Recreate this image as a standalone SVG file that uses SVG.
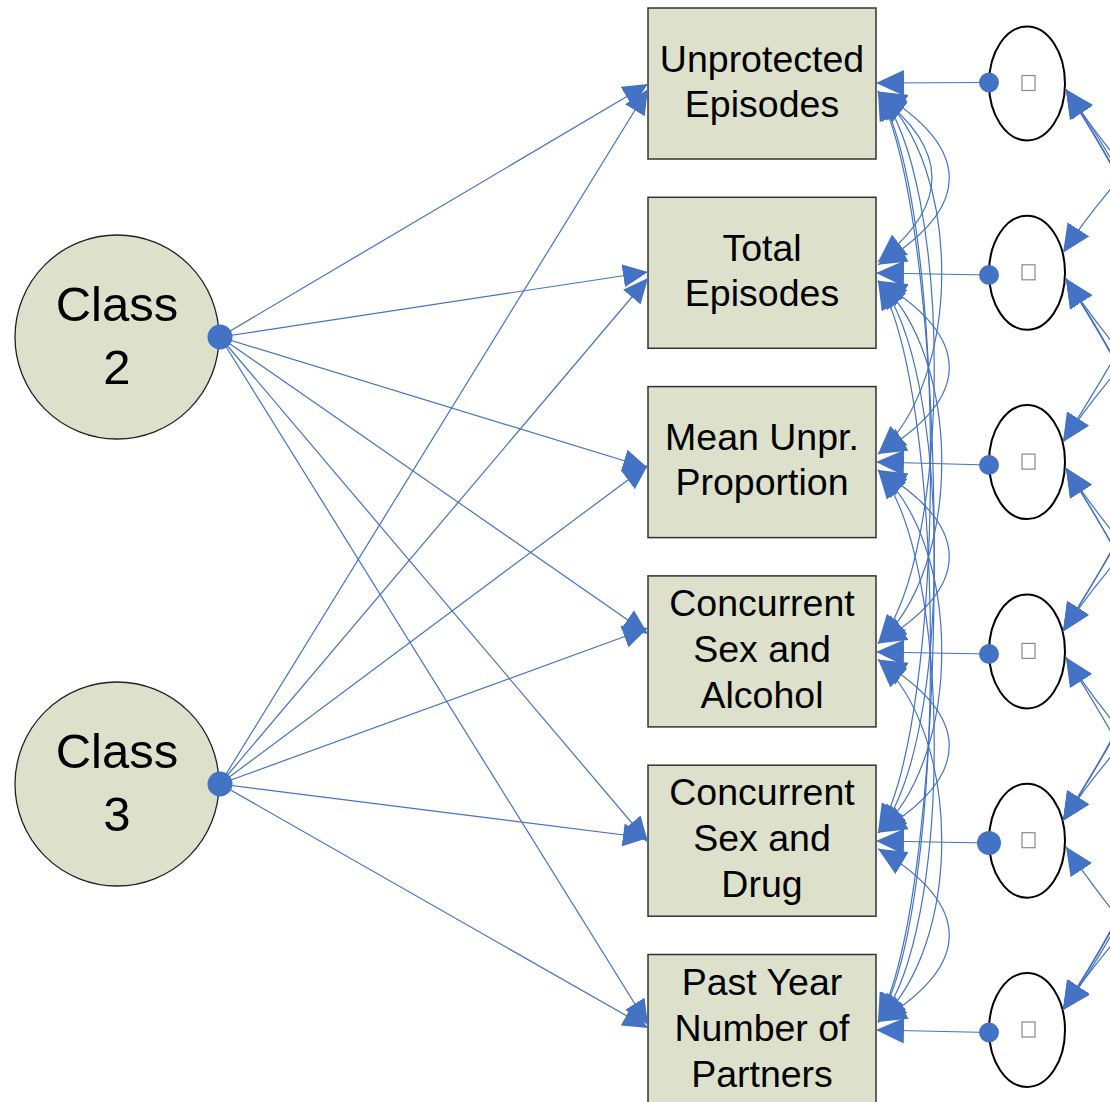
<svg xmlns="http://www.w3.org/2000/svg" width="1110" height="1102" viewBox="0 0 1110 1102">
<style>
.box{fill:#DDE1CC;stroke:#333333;stroke-width:1.5}
.cls{fill:#DDE1CC;stroke:#222222;stroke-width:1.3}
.err{fill:#FFFFFF;stroke:#000000;stroke-width:2}
.sq{fill:#FFFFFF;stroke:#8A8A8A;stroke-width:1.2}
.dot{fill:#4472C4}
.t{font-family:"Liberation Sans",Arial,sans-serif;font-size:37.5px;fill:#000000;text-anchor:middle}
.tc{font-family:"Liberation Sans",Arial,sans-serif;font-size:49px;fill:#000000;text-anchor:middle}
.ln{fill:none;stroke:#4472C4;stroke-width:1.2}
.reg{marker-end:url(#ahs)}
.one{marker-end:url(#ah)}
.cov{marker-start:url(#ah);marker-end:url(#ah)}
</style>
<defs>
<marker id="ah" viewBox="0 0 12 11" refX="12" refY="5.5" markerWidth="28" markerHeight="26" markerUnits="userSpaceOnUse" orient="auto-start-reverse">
<path d="M0,0 L12,5.5 L0,11 z" fill="#4472C4"/>
</marker>
<marker id="ahs" viewBox="0 0 12 11" refX="12" refY="5.5" markerWidth="25" markerHeight="23" markerUnits="userSpaceOnUse" orient="auto">
<path d="M0,0 L12,5.5 L0,11 z" fill="#4472C4"/>
</marker>
</defs>

<g id="class2">
<circle class="cls" cx="117" cy="337" r="102"/>
<text class="tc" x="117" y="321">Class</text>
<text class="tc" x="117" y="384">2</text>
<circle class="dot" cx="220" cy="337" r="12.5"/>
</g>
<g id="class3">
<circle class="cls" cx="117" cy="784" r="102"/>
<text class="tc" x="117" y="768">Class</text>
<text class="tc" x="117" y="831">3</text>
<circle class="dot" cx="220" cy="784" r="12.5"/>
</g>

<g id="box1">
<rect class="box" x="648" y="8" width="228" height="151"/>
<text class="t" x="762" y="72">Unprotected</text>
<text class="t" x="762" y="117">Episodes</text>
</g>
<g id="box2">
<rect class="box" x="648" y="197.3" width="228" height="151"/>
<text class="t" x="762" y="261">Total</text>
<text class="t" x="762" y="306">Episodes</text>
</g>
<g id="box3">
<rect class="box" x="648" y="386.6" width="228" height="151"/>
<text class="t" x="762" y="450">Mean Unpr.</text>
<text class="t" x="762" y="495">Proportion</text>
</g>
<g id="box4">
<rect class="box" x="648" y="575.9" width="228" height="151"/>
<text class="t" x="762" y="616">Concurrent</text>
<text class="t" x="762" y="662">Sex and</text>
<text class="t" x="762" y="708">Alcohol</text>
</g>
<g id="box5">
<rect class="box" x="648" y="765.2" width="228" height="151"/>
<text class="t" x="762" y="805">Concurrent</text>
<text class="t" x="762" y="851">Sex and</text>
<text class="t" x="762" y="897">Drug</text>
</g>
<g id="box6">
<rect class="box" x="648" y="954.5" width="228" height="151"/>
<text class="t" x="762" y="995">Past Year</text>
<text class="t" x="762" y="1041">Number of</text>
<text class="t" x="762" y="1087">Partners</text>
</g>

<g id="err1"><ellipse class="err" cx="1027" cy="83.5" rx="38" ry="57"/><rect class="sq" x="1022" y="75.5" width="13" height="15"/><circle class="dot" cx="989" cy="82.5" r="10"/></g>
<g id="err2"><ellipse class="err" cx="1027" cy="272.8" rx="38" ry="57"/><rect class="sq" x="1022" y="264.8" width="13" height="15"/><circle class="dot" cx="989" cy="275" r="10"/></g>
<g id="err3"><ellipse class="err" cx="1027" cy="462.1" rx="38" ry="57"/><rect class="sq" x="1022" y="454.1" width="13" height="15"/><circle class="dot" cx="989" cy="465" r="10"/></g>
<g id="err4"><ellipse class="err" cx="1027" cy="651.4" rx="38" ry="57"/><rect class="sq" x="1022" y="643.4" width="13" height="15"/><circle class="dot" cx="989" cy="654" r="10"/></g>
<g id="err5"><ellipse class="err" cx="1027" cy="840.7" rx="38" ry="57"/><rect class="sq" x="1022" y="832.7" width="13" height="15"/><circle class="dot" cx="989" cy="843" r="12"/></g>
<g id="err6"><ellipse class="err" cx="1027" cy="1030" rx="38" ry="57"/><rect class="sq" x="1022" y="1022" width="13" height="15"/><circle class="dot" cx="989" cy="1032.5" r="10"/></g>

<g id="connectors">
<path class="ln reg" d="M220,337 L648,84"/>
<path class="ln reg" d="M220,337 L648,272"/>
<path class="ln reg" d="M220,337 L648,468"/>
<path class="ln reg" d="M220,337 L648,634"/>
<path class="ln reg" d="M220,337 L648,842"/>
<path class="ln reg" d="M220,337 L648,1025"/>
<path class="ln reg" d="M220,784 L648,89"/>
<path class="ln reg" d="M220,784 L648,278"/>
<path class="ln reg" d="M220,784 L648,465"/>
<path class="ln reg" d="M220,784 L648,628"/>
<path class="ln reg" d="M220,784 L648,838"/>
<path class="ln reg" d="M220,784 L648,1028"/>
<path class="ln one" d="M989,82.5 L876,83"/>
<path class="ln one" d="M989,275 L876,273"/>
<path class="ln one" d="M989,465 L876,462"/>
<path class="ln one" d="M989,654 L876,652"/>
<path class="ln one" d="M989,843 L876,841"/>
<path class="ln one" d="M989,1032.5 L876,1030"/>
<path class="ln cov" d="M878,91.5 C973,148.3 973,208 878,264.8"/>
<path class="ln cov" d="M878,95 C950,150 950,205 878,262"/>
<path class="ln cov" d="M878,280.8 C973,337.6 973,397.3 878,454.1"/>
<path class="ln cov" d="M878,470.1 C973,526.9 973,586.6 878,643.4"/>
<path class="ln cov" d="M878,659.4 C973,716.2 973,775.9 878,832.7"/>
<path class="ln cov" d="M878,848.7 C973,905.5 973,965.2 878,1022"/>
<path class="ln cov" d="M878,91.5 C963,167.2 963,378.4 878,454.1"/>
<path class="ln cov" d="M878,280.8 C963,356.5 963,567.7 878,643.4"/>
<path class="ln cov" d="M878,470.1 C963,545.8 963,757 878,832.7"/>
<path class="ln cov" d="M878,659.4 C963,735.1 963,946.3 878,1022"/>
<path class="ln cov" d="M878,91.5 C953,176.7 953,558.2 878,643.4"/>
<path class="ln cov" d="M878,280.8 C953,366 953,747.5 878,832.7"/>
<path class="ln cov" d="M878,470.1 C953,555.3 953,936.8 878,1022"/>
<path class="ln cov" d="M878,91.5 C948,205.1 948,719.1 878,832.7"/>
<path class="ln cov" d="M878,280.8 C948,394.4 948,908.4 878,1022"/>
<path class="ln cov" d="M878,91.5 C953,233.5 953,880 878,1022"/>
<path class="ln cov" d="M1066,89.5 C1141,203.8 1138,138.5 1063,252.8"/>
<path class="ln cov" d="M1066,278.8 C1141,393.1 1138,327.8 1063,442.1"/>
<path class="ln cov" d="M1066,468.1 C1141,582.4 1138,517.1 1063,631.4"/>
<path class="ln cov" d="M1066,657.4 C1141,771.7 1138,706.4 1063,820.7"/>
<path class="ln cov" d="M1066,846.7 C1141,961 1138,895.7 1063,1010"/>
<path class="ln cov" d="M1066,89.5 C1176,265.8 1173,265.8 1063,442.1"/>
<path class="ln cov" d="M1066,278.8 C1176,455.1 1173,455.1 1063,631.4"/>
<path class="ln cov" d="M1066,468.1 C1176,644.4 1173,644.4 1063,820.7"/>
<path class="ln cov" d="M1066,657.4 C1176,833.7 1173,833.7 1063,1010"/>
<path class="ln cov" d="M1066,89.5 C1206,306.3 1203,414.6 1063,631.4"/>
<path class="ln cov" d="M1066,278.8 C1206,495.6 1203,603.9 1063,820.7"/>
<path class="ln cov" d="M1066,468.1 C1206,684.9 1203,793.2 1063,1010"/>
<path class="ln cov" d="M1066,89.5 C1236,345.4 1233,564.8 1063,820.7"/>
<path class="ln cov" d="M1066,278.8 C1236,534.7 1233,754.1 1063,1010"/>
<path class="ln cov" d="M1066,89.5 C1266,365.7 1263,733.8 1063,1010"/>
</g>
</svg>
